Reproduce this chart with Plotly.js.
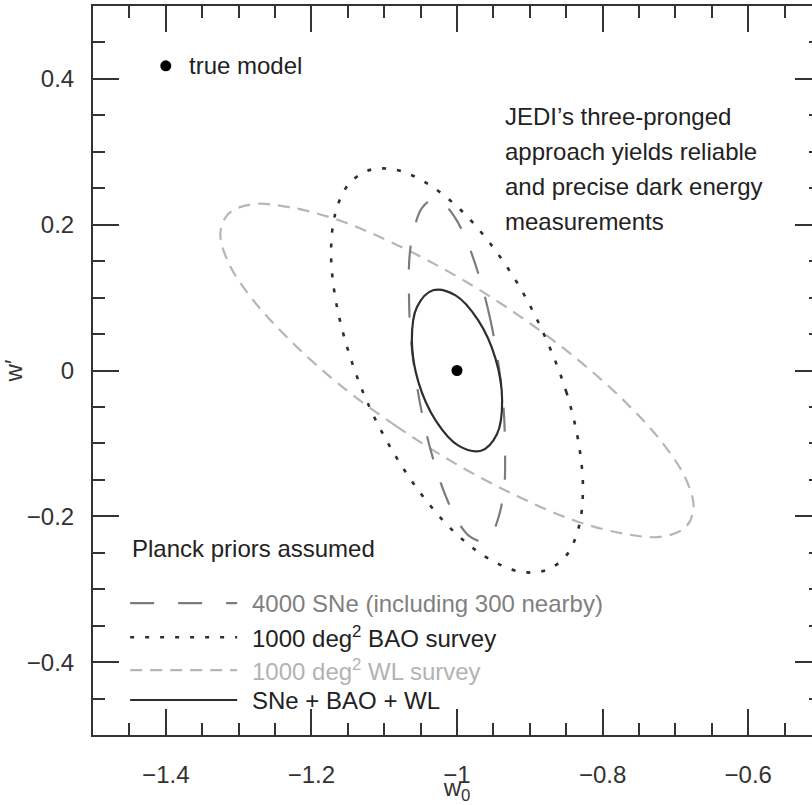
<!DOCTYPE html>
<html>
<head>
<meta charset="utf-8">
<script src="https://cdn.plot.ly/plotly-3.0.1.min.js"></script>
<style>
html, body { margin:0; padding:0; overflow:hidden; background:#fff; }
#chart { width:830px; height:805px; }
</style>
</head>
<body>
<div id="chart"></div>
<script>
// ---- data (w0, w') ----
const wlX = [-1.000,-1.084,-1.163,-1.230,-1.282,-1.314,-1.325,-1.314,-1.282,-1.230,-1.162,-1.084,-1.000,-0.916,-0.838,-0.770,-0.718,-0.686,-0.675,-0.686,-0.719,-0.770,-0.838,-0.916];
const wlY = [-0.129,-0.076,-0.018,0.042,0.099,0.148,0.188,0.215,0.228,0.224,0.206,0.173,0.129,0.076,0.018,-0.042,-0.099,-0.148,-0.188,-0.215,-0.228,-0.224,-0.206,-0.173];

const snX = [-0.943,-0.954,-0.968,-0.984,-1.001,-1.018,-1.034,-1.048,-1.058,-1.065,-1.066,-1.064,-1.057,-1.046,-1.032,-1.016,-0.999,-0.982,-0.966,-0.952,-0.942,-0.935,-0.934,-0.936];
const snY = [0.008,0.069,0.124,0.171,0.207,0.228,0.234,0.223,0.198,0.159,0.110,0.052,-0.008,-0.069,-0.124,-0.171,-0.207,-0.228,-0.234,-0.223,-0.198,-0.159,-0.110,-0.052];

const baoX = [-0.878,-0.850,-0.833,-0.827,-0.833,-0.850,-0.878,-0.913,-0.955,-1.000,-1.045,-1.087,-1.123,-1.150,-1.167,-1.173,-1.167,-1.150,-1.123,-1.087,-1.045,-1.000,-0.955,-0.913];
const baoY = [0.044,-0.029,-0.099,-0.163,-0.216,-0.254,-0.274,-0.276,-0.259,-0.225,-0.175,-0.113,-0.044,0.029,0.099,0.163,0.216,0.254,0.274,0.276,0.259,0.225,0.175,0.113];

const combX = [-0.947,-0.971,-1.002,-1.033,-1.055,-1.062,-1.053,-1.029,-0.998,-0.967,-0.945,-0.938];
const combY = [0.016,0.069,0.103,0.110,0.087,0.041,-0.016,-0.069,-0.103,-0.110,-0.087,-0.041];

const trueX = [-1.0];
const trueY = [0.0];

const xTicks = [-1.4,-1.2,-1,-0.8,-0.6];
const yTicks = [-0.4,-0.2,0,0.2,0.4];

const legendLabels = ["4000 SNe (including 300 nearby)", "1000 deg<sup>2</sup> BAO survey", "1000 deg<sup>2</sup> WL survey", "SNe + BAO + WL"];
const noteLines = ["JEDI\u2019s three-pronged", "approach yields reliable", "and precise dark energy", "measurements"];

// ---- styling ----
const FONT = "Liberation Sans, Arial, Helvetica, sans-serif";
const FS = 24;
const close = a => a.concat([a[0]]);

const styles = [
  {color:'#7c7c7c', dash:'24px,24px', width:2.2},   // SNe
  {color:'#2e2e2e', dash:'4px,11px', width:2.6},    // BAO
  {color:'#b6b6b6', dash:'12px,8px', width:2.2},    // WL
  {color:'#2e2e2e', dash:'solid', width:2.2}        // combined
];
const textColors = ['#808080', '#222222', '#b3b3b3', '#222222'];

const traces = [
  {x: close(wlX), y: close(wlY), mode:'lines', line:{shape:'spline', smoothing:1, color:styles[2].color, dash:styles[2].dash, width:styles[2].width}, name:'WL', showlegend:false, hoverinfo:'skip'},
  {x: close(snX), y: close(snY), mode:'lines', line:{shape:'spline', smoothing:1, color:styles[0].color, dash:styles[0].dash, width:styles[0].width}, name:'SNe', showlegend:false, hoverinfo:'skip'},
  {x: close(baoX), y: close(baoY), mode:'lines', line:{shape:'spline', smoothing:1, color:styles[1].color, dash:styles[1].dash, width:styles[1].width}, name:'BAO', showlegend:false, hoverinfo:'skip'},
  {x: close(combX), y: close(combY), mode:'lines', line:{shape:'spline', smoothing:1, color:styles[3].color, dash:styles[3].dash, width:styles[3].width}, name:'SNe + BAO + WL', showlegend:false, hoverinfo:'skip'},
  {x: trueX, y: trueY, mode:'markers', marker:{color:'#000', size:11}, name:'true model', showlegend:false, hoverinfo:'skip'}
];

// legend rows (paper coords)
const rowY = [0.181, 0.134, 0.089, 0.048];
const keyX0 = 0.051, keyX1 = 0.198, labelX = 0.216;

const shapes = [];
const annotations = [];
rowY.forEach((y, i) => {
  shapes.push({type:'line', xref:'paper', yref:'paper', x0:keyX0, x1:keyX1, y0:y, y1:y,
    line:{color:styles[i].color, dash:styles[i].dash, width:styles[i].width}});
  annotations.push({xref:'paper', yref:'paper', x:labelX, y:y, xanchor:'left', yanchor:'middle',
    text:legendLabels[i], showarrow:false, font:{family:FONT, size:FS, color:textColors[i]}});
});
annotations.push({xref:'paper', yref:'paper', x:keyX0, y:0.256, xanchor:'left', yanchor:'middle',
  text:'Planck priors assumed', showarrow:false, font:{family:FONT, size:FS, color:'#222'}});

// true model key
shapes.push({type:'circle', xref:'x', yref:'y', xsizemode:'pixel', ysizemode:'pixel',
  xanchor:-1.4, yanchor:0.418, x0:-5.5, x1:5.5, y0:-5.5, y1:5.5, fillcolor:'#000', line:{width:0}});
annotations.push({xref:'x', yref:'y', x:-1.371, y:0.418, xanchor:'left', yanchor:'middle',
  text:'true model', showarrow:false, font:{family:FONT, size:FS, color:'#222'}});

// note text
const noteY = [0.849, 0.801, 0.753, 0.705];
noteLines.forEach((t, i) => {
  annotations.push({xref:'paper', yref:'paper', x:0.563, y:noteY[i], xanchor:'left', yanchor:'middle',
    text:t, showarrow:false, font:{family:FONT, size:FS, color:'#222'}});
});

const axisCommon = {
  showgrid:false, zeroline:false, showline:true, linecolor:'#333', linewidth:2,
  mirror:'ticks', ticks:'inside', ticklen:26, tickwidth:2, tickcolor:'#333',
  tickfont:{family:FONT, size:FS, color:'#333'},
  minor:{ticks:'inside', ticklen:12, tickwidth:2, tickcolor:'#333', dtick:0.05, showgrid:false},
  fixedrange:true
};

const layout = {
  width:830, height:805,
  margin:{l:93, r:9, t:6, b:70},
  paper_bgcolor:'#fff', plot_bgcolor:'#fff',
  showlegend:false,
  xaxis: Object.assign({}, axisCommon, {
    range:[-1.5,-0.5], tickvals:xTicks, ticklabelstandoff:17,
    minor:Object.assign({}, axisCommon.minor, {tick0:-1.5}),
    title:{text:'w<sub>0</sub>', font:{family:FONT, size:FS, color:'#333'}, standoff:0}
  }),
  yaxis: Object.assign({}, axisCommon, {
    range:[-0.5,0.5], tickvals:yTicks, ticklabelstandoff:12, automargin:true,
    minor:Object.assign({}, axisCommon.minor, {tick0:-0.5}),
    title:{text:'w\u2032', font:{family:FONT, size:FS, color:'#333'}, standoff:1}
  }),
  shapes: shapes,
  annotations: annotations
};

Plotly.newPlot('chart', traces, layout, {displayModeBar:false, staticPlot:true});
</script>
</body>
</html>
